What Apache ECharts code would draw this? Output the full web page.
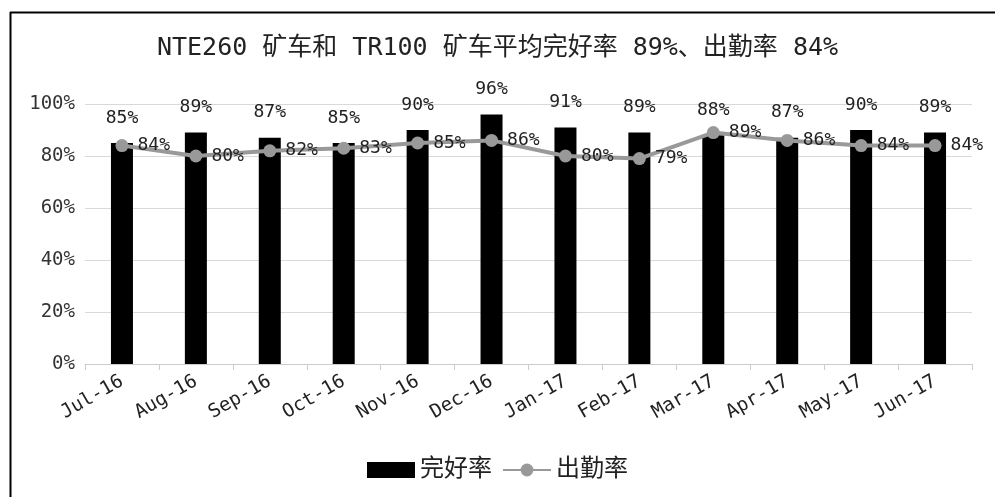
<!DOCTYPE html>
<html><head><meta charset="utf-8">
<script src="https://cdn.jsdelivr.net/npm/echarts@6/dist/echarts.min.js"></script>
<style>html,body{margin:0;padding:0;background:#fff}#c{width:995px;height:497px}</style>
</head><body><div id="c"></div>
<script>
const categories = ['Jul-16','Aug-16','Sep-16','Oct-16','Nov-16','Dec-16','Jan-17','Feb-17','Mar-17','Apr-17','May-17','Jun-17'];
const wanhao = [85,89,87,85,90,96,91,89,88,87,90,89];
const chuqin = [84,80,82,83,85,86,80,79,89,86,84,84];
const titleText = 'NTE260 矿车和 TR100 矿车平均完好率 89%、出勤率 84%';
const font = '"DejaVu Sans Mono", "Noto Sans CJK SC", monospace';
const chart = echarts.init(document.getElementById('c'), null, {renderer:'canvas'});
chart.setOption({
  animation:false,
  backgroundColor:'#fff',
  graphic:[
    {type:'line',shape:{x1:10,y1:12.5,x2:995,y2:12.5},style:{stroke:'#000',lineWidth:2}},
    {type:'line',shape:{x1:10.5,y1:12,x2:10.5,y2:497},style:{stroke:'#000',lineWidth:2}}
  ],
  title:{text:titleText,left:'center',top:31,textStyle:{fontFamily:font,fontSize:25,fontWeight:'normal',color:'#222'}},
  legend:{bottom:10,left:'center',itemGap:10,itemWidth:48,itemHeight:16,
    textStyle:{fontFamily:font,fontSize:24,color:'#222'},
    data:[{name:'完好率',icon:'rect'},{name:'出勤率'}]},
  grid:{left:85,right:23,top:104,bottom:133,containLabel:false},
  xAxis:{type:'category',data:categories,
    axisLine:{lineStyle:{color:'#ccc'}},
    axisTick:{show:true,length:6,lineStyle:{color:'#ccc'}},
    axisLabel:{rotate:30,fontFamily:font,fontSize:19,color:'#222',margin:16}},
  yAxis:{type:'value',min:0,max:100,interval:20,
    axisLine:{show:false},axisTick:{show:false},
    splitLine:{lineStyle:{color:'#d9d9d9'}},
    axisLabel:{formatter:'{value}%',fontFamily:font,fontSize:19,color:'#333',margin:10}},
  series:[
    {name:'完好率',type:'bar',data:wanhao,barWidth:22,itemStyle:{color:'#000'},
     label:{show:true,position:'top',distance:16,formatter:'{c}%',fontFamily:font,fontSize:18,color:'#222'}},
    {name:'出勤率',type:'line',data:chuqin,symbol:'circle',symbolSize:13,
     lineStyle:{color:'#999',width:4},itemStyle:{color:'#999'},
     label:{show:true,position:'right',distance:9,formatter:'{c}%',fontFamily:font,fontSize:18,color:'#222'}}
  ]
});
</script></body></html>
